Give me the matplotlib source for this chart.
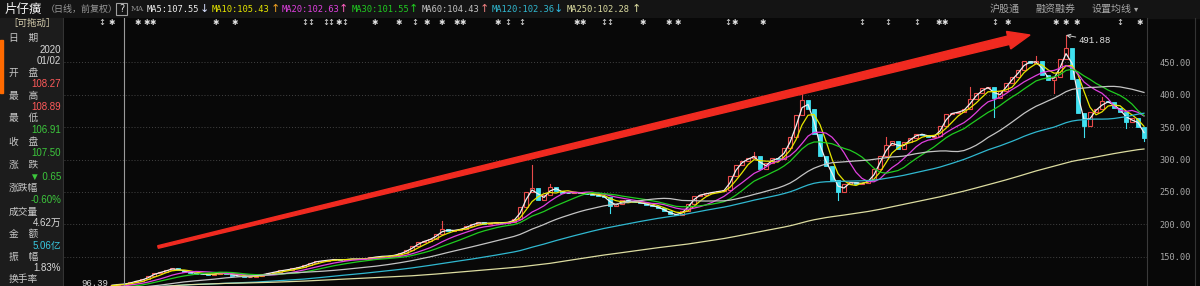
import numpy as np
import pandas as pd
import matplotlib
matplotlib.use('Agg')
import matplotlib.pyplot as plt
import matplotlib.transforms as mtransforms
from matplotlib.patches import Rectangle, Polygon

plt.rcParams['font.family'] = ['Noto Sans CJK SC', 'DejaVu Sans']

# 画面左端之前的收盘价, 只用来算均线
prior_closes = [98, 100, 102, 101, 99, 97, 96, 98, 100, 103,
                105, 104, 102, 100, 99, 98, 97, 99, 101, 103,
                104, 103, 101, 100, 99, 100, 102, 104, 105, 106]

# 每根K线的收盘价
closes = [106, 108, 107.5, 111, 113, 115, 120, 125, 126, 130,
          132, 129, 127, 125, 124, 123, 122, 124, 126, 124,
          121, 120, 119, 119, 121, 123, 125, 127, 129, 130,
          132, 134, 137, 141, 143, 144, 145, 146, 145, 146,
          147, 146, 147, 149, 150, 151, 151, 153, 156, 160,
          166, 172, 175, 178, 185, 192, 190, 191, 193, 197,
          201, 203, 201, 202, 203, 202, 204, 208, 226, 250,
          256, 238, 245, 258, 252, 249, 248, 250, 248, 247,
          246, 244, 242, 228, 232, 237, 236, 234, 233, 230,
          228, 225, 220, 216, 214, 221, 232, 244, 246, 248,
          250, 251, 253, 275, 292, 298, 303, 306, 286, 295,
          302, 301, 318, 335, 368, 392, 378, 340, 305, 290,
          268, 250, 262, 266, 262, 264, 268, 285, 305, 322,
          328, 316, 327, 333, 340, 338, 335, 336, 352, 370,
          372, 374, 378, 394, 402, 410, 412, 395, 405, 418,
          428, 438, 452, 449, 452, 430, 423, 428, 455, 472,
          425, 372, 352, 374, 378, 390, 388, 380, 374, 358,
          364, 350, 333]

# 明显的上下影线
high_spikes = {2: 108.89, 55: 205, 70: 292, 73: 262, 107: 312, 115: 403,
               129: 335, 143: 412, 154: 460, 159: 491.88, 165: 396}
low_spikes = {0: 96.39, 2: 106.91, 83: 218, 121: 238, 147: 365, 157: 402,
              162: 335, 169: 348, 172: 328}

ma_names = ['MA5', 'MA10', 'MA20', 'MA30', 'MA60', 'MA120', 'MA250']
ma_windows = [2, 4, 8, 12, 25, 50, 104]   # 换算成K线根数
ma_values = ['107.55', '105.43', '102.63', '101.55', '104.43', '102.36', '102.28']
ma_arrows = ['↓', '↑', '↑', '↑', '↑', '↓', '↑']
ma_colors = ['#f0f0f0', '#e6e600', '#e040e0', '#20cc20', '#c4c4c4', '#30b8d0', '#dcdca0']
arrow_colors = ['#d8e0ff', '#f0a020', '#ff60c0', '#20cc20', '#f08080', '#30b8e0', '#dcdca0']

y_ticks = [150, 200, 250, 300, 350, 400, 450]

info_labels = ['日\u3000期', '开\u3000盘', '最\u3000高', '最\u3000低', '收\u3000盘',
               '涨\u3000跌', '涨跌幅', '成交量', '金\u3000额', '振\u3000幅', '换手率']
info_values = ['2020', '01/02', '108.27', '108.89', '106.91', '107.50',
               '▼ 0.65', '-0.60%', '4.62万', '5.06亿', '1.83%']

# 信息地雷 (K线序号)
star_idx = [0, 4.2, 5.8, 6.8, 17.2, 20.5, 37.7, 43.8, 47.7, 52.5, 55, 57.5, 58.5,
            64.2, 77.5, 78.5, 88.5, 92.7, 94.2, 103.8, 108.5, 137.8, 138.8,
            149.2, 157.2, 159, 160.8, 171.3]
dart_idx = [-1.7, 32.2, 33.2, 35.7, 36.5, 38.8, 50.5, 66, 68.3, 82, 83, 102.7,
            125, 129.3, 134.2, 147.2, 168]

cursor_idx = 2
peak_idx = 159
low_idx = 0

up_color = '#e84a4a'
down_color = '#40e0f0'
bg_color = '#080808'

opens = [prior_closes[-1]] + closes[:-1]
highs = [max(o, c) for o, c in zip(opens, closes)]
lows = [min(o, c) for o, c in zip(opens, closes)]
opens[2] = 108.27
for k, v in high_spikes.items():
    highs[k] = v
for k, v in low_spikes.items():
    lows[k] = v

fig = plt.figure(figsize=(12, 2.86), dpi=100, facecolor=bg_color)

# 背景: 顶栏和左侧信息栏
bg = fig.add_axes([0, 0, 1, 1], zorder=0)
bg.set_xlim(0, 1200)
bg.set_ylim(286, 0)
bg.axis('off')
bg.add_patch(Rectangle((0, 0), 1200, 18, color='#141414'))
bg.add_patch(Rectangle((0, 18), 63, 268, color='#1c1c1c'))
bg.add_patch(Rectangle((0, 40), 3, 53, color='#ff6a00'))
bg.plot([63, 63], [18, 286], color='#333333', lw=0.8)
bg.plot([1195, 1195], [18, 286], color='#333333', lw=0.8)

# K线主图
ax = fig.add_axes([64 / 1200, 0, 1083 / 1200, 268 / 286], zorder=1)
ax.set_facecolor(bg_color)
ax.set_xlim(-8, 172.5)
ax.set_ylim(104.8, 518.4)

bw = 0.6
for i, (o, c, h, l) in enumerate(zip(opens, closes, highs, lows)):
    top, bot = max(o, c), min(o, c)
    col = up_color if c >= o else down_color
    if h > top:
        ax.plot([i, i], [top, h], color=col, lw=0.8, zorder=2)
    if l < bot:
        ax.plot([i, i], [l, bot], color=col, lw=0.8, zorder=2)
    if c >= o:
        ax.add_patch(Rectangle((i - bw / 2, bot), bw, max(top - bot, 0.4),
                               facecolor=bg_color, edgecolor=col, lw=0.8, zorder=2))
    else:
        ax.add_patch(Rectangle((i - bw / 2, bot), bw, top - bot,
                               facecolor=col, edgecolor=col, lw=0.6, zorder=2))

full = pd.Series(prior_closes + closes, dtype=float)
n0 = len(prior_closes)
xs = np.arange(len(closes))
for w, col in zip(ma_windows, ma_colors):
    ma = full.rolling(w, min_periods=1).mean().iloc[n0:]
    ax.plot(xs, ma.values, color=col, lw=0.9, zorder=3)

ax.axvline(cursor_idx, color='#9a9a9a', lw=0.8, zorder=4)

ax.set_xticks([])
ax.set_yticks(y_ticks)
ax.set_yticklabels(['%.2f' % v for v in y_ticks])
ax.yaxis.tick_right()
ax.tick_params(axis='y', length=0, pad=9, labelcolor='#a8a8a8', labelsize=6.2)
for lbl in ax.get_yticklabels():
    lbl.set_family('DejaVu Sans Mono')
ax.grid(axis='y', color='#444444', linestyle=(0, (1, 2)), linewidth=0.7)
ax.set_axisbelow(True)
for s in ['top', 'left', 'bottom']:
    ax.spines[s].set_visible(False)
ax.spines['right'].set_color('#3a3a3a')
ax.spines['right'].set_linewidth(0.8)

trans = mtransforms.blended_transform_factory(ax.transData, ax.transAxes)
for xi in star_idx:
    ax.text(xi, 0.983, '✱', transform=trans, color='#e0e0e0', fontsize=5.5,
            ha='center', va='center', family='DejaVu Sans', clip_on=False)
for xi in dart_idx:
    ax.text(xi, 0.983, '↕', transform=trans, color='#e0e0e0', fontsize=6,
            ha='center', va='center', family='DejaVu Sans', clip_on=False)

ax.annotate('%.2f' % highs[peak_idx], xy=(peak_idx, highs[peak_idx]),
            xytext=(9, -4), textcoords='offset points', color='#e8e8e8',
            fontsize=6.5, family='Liberation Mono', ha='left', va='center',
            arrowprops=dict(arrowstyle='->', color='#d0d0d0', lw=0.7,
                            shrinkA=0, shrinkB=0), zorder=6)
ax.text(low_idx - 0.7, 109.4, '%.2f' % lows[low_idx], color='#d8d8d8',
        fontsize=6.5, family='Liberation Mono', ha='right', va='center', zorder=6)

# 叠加层: 红色箭头和文字
ov = fig.add_axes([0, 0, 1, 1], zorder=3)
ov.set_xlim(0, 1200)
ov.set_ylim(286, 0)
ov.axis('off')

S = np.array([158.0, 247.0])
T = np.array([1030.0, 35.0])
u = (T - S) / np.linalg.norm(T - S)
n = np.array([-u[1], u[0]])
B = T - 22 * u
pts = [S + 1.3 * n, B + 4.3 * n, B + 9 * n, T, B - 9 * n, B - 4.3 * n, S - 1.3 * n]
ov.add_patch(Polygon(pts, closed=True, color='#f02a20', zorder=5))

# 顶栏
ov.text(5, 9, '片仔癀', color='#f0f0f0', fontsize=9, va='center')
ov.text(46, 9, '（日线，前复权）', color='#9a9a9a', fontsize=6.5, va='center')
ov.add_patch(Rectangle((116, 3), 11, 12, fill=False, edgecolor='#a0a0a0', lw=0.8))
ov.text(121.5, 9.5, '?', color='#e0e0e0', fontsize=7, ha='center', va='center',
        family='DejaVu Sans')
ov.text(131, 9, 'MA', color='#909090', fontsize=5.5, va='center', family='DejaVu Serif')
ma_text_x = [147, 212, 282, 352, 422, 492, 567]
ma_arrow_x = [204, 275, 343, 413, 484, 558, 636]
for name, val, arr, col, acol, tx, axx in zip(ma_names, ma_values, ma_arrows, ma_colors,
                                              arrow_colors, ma_text_x, ma_arrow_x):
    ov.text(tx, 9, '%s:%s' % (name, val), color=col, fontsize=6.3, va='center',
            family='DejaVu Sans Mono')
    ov.text(axx, 9, arr, color=acol, fontsize=8, va='center', ha='center',
            family='DejaVu Sans')
ov.text(990, 9, '沪股通', color='#a8a8a8', fontsize=7.2, va='center')
ov.text(1035, 9, '融资融券', color='#a8a8a8', fontsize=7.2, va='center')
ov.text(1092, 9, '设置均线', color='#a8a8a8', fontsize=7.2, va='center')
ov.text(1134, 9, '▾', color='#a8a8a8', fontsize=6, va='center', family='DejaVu Sans')

# 左侧信息栏
ov.text(8, 23, '［可拖动］', color='#d8d0b0', fontsize=6.8, va='center')
label_y = [38, 73, 96, 118, 142, 165, 188, 212, 234, 257, 279]
value_y = [50, 61, 84, 107, 130, 153, 177, 200, 223, 246, 268]
value_colors = ['#d8d8d8', '#d8d8d8', '#ff5a5a', '#ff5a5a', '#3cc83c', '#3cc83c',
                '#3cc83c', '#3cc83c', '#d8d8d8', '#38c8e0', '#d8d8d8']
for txt, yy in zip(info_labels, label_y):
    ov.text(9, yy, txt, color='#c8c8c8', fontsize=7, va='center')
for txt, yy, col in zip(info_values, value_y, value_colors):
    ov.text(61, yy, txt, color=col, fontsize=7, va='center', ha='right',
            family=['Liberation Sans', 'Noto Sans CJK SC', 'DejaVu Sans'])

fig.savefig('out.png', dpi=100, facecolor=bg_color)
